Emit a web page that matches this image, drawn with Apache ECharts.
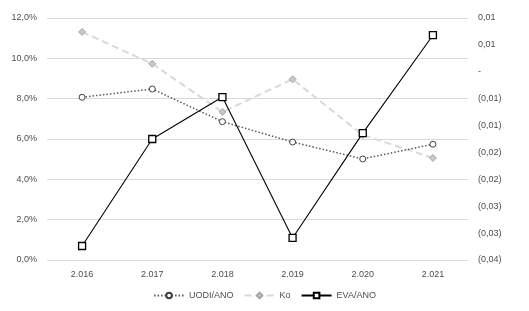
<!DOCTYPE html>
<html>
<head>
<meta charset="utf-8">
<script src="https://cdn.jsdelivr.net/npm/echarts@6/dist/echarts.min.js"></script>
<style>
  html, body { margin: 0; padding: 0; background: #fff; }
  #chart { width: 529px; height: 311px; }
</style>
</head>
<body>
<div id="chart"></div>
<script>
var years = ['2.016', '2.017', '2.018', '2.019', '2.020', '2.021'];
var uodiAno = [0.0807, 0.0848, 0.0686, 0.0585, 0.0501, 0.0574];
var ko = [0.1131, 0.0973, 0.0734, 0.0896, 0.0620, 0.0506];
var evaAno = [-0.0324, -0.0125, -0.0047, -0.0309, -0.0114, 0.0068];

var labelColor = '#4d4d4d';
var fontFam = '"Liberation Sans", Arial, sans-serif';

function pctLabel(v) {
    return (v * 100).toFixed(1).replace('.', ',') + '%';
}

// formato contable: negativos entre paréntesis, cero como guion
function accLabel(v) {
    if (Math.abs(v) < 1e-9) return '-';
    var a = Math.round(Math.abs(v) * 100 + 1e-7) / 100;
    var s = a.toFixed(2).replace('.', ',');
    return v < 0 ? '(' + s + ')' : s;
}

var chart = echarts.init(document.getElementById('chart'));

var option = {
    animation: false,
    textStyle: { fontFamily: fontFam },
    legend: {
        bottom: 6,
        left: 'center',
        itemWidth: 30,
        itemHeight: 7,
        itemGap: 10,
        textStyle: { color: labelColor, fontSize: 9, fontFamily: fontFam },
        data: ['UODI/ANO', 'Ko', 'EVA/ANO']
    },
    grid: {
        left: 47,
        right: 61,
        top: 18,
        bottom: 51
    },
    xAxis: {
        type: 'category',
        data: years,
        axisTick: { show: false },
        axisLine: { show: false },
        axisLabel: { color: labelColor, fontSize: 9, margin: 10 }
    },
    yAxis: [
        {
            type: 'value',
            min: 0,
            max: 0.12,
            interval: 0.02,
            axisLine: { show: false },
            axisTick: { show: false },
            axisLabel: { color: labelColor, fontSize: 9, margin: 10, formatter: pctLabel },
            splitLine: { lineStyle: { color: '#d9d9d9', width: 1 } }
        },
        {
            type: 'value',
            min: -0.035,
            max: 0.01,
            interval: 0.005,
            axisLine: { show: false },
            axisTick: { show: false },
            splitLine: { show: false },
            axisLabel: { color: labelColor, fontSize: 9, margin: 10, formatter: accLabel }
        }
    ],
    series: [
        {
            name: 'UODI/ANO',
            type: 'line',
            yAxisIndex: 0,
            data: uodiAno,
            symbol: 'circle',
            symbolSize: 6,
            lineStyle: { color: '#595959', width: 1.5, type: [1.5, 2] },
            itemStyle: { color: '#ffffff', borderColor: '#404040', borderWidth: 1 },
            z: 3
        },
        {
            name: 'Ko',
            type: 'line',
            yAxisIndex: 0,
            data: ko,
            symbol: 'diamond',
            symbolSize: 7,
            lineStyle: { color: '#d9d9d9', width: 2, type: [7, 4] },
            itemStyle: { color: '#c8c8c8', borderColor: '#a6a6a6', borderWidth: 1 },
            z: 2
        },
        {
            name: 'EVA/ANO',
            type: 'line',
            yAxisIndex: 1,
            data: evaAno,
            symbol: 'rect',
            symbolSize: 7,
            lineStyle: { color: '#000000', width: 1.1 },
            itemStyle: { color: '#ffffff', borderColor: '#000000', borderWidth: 1.3 },
            z: 4
        }
    ]
};

chart.setOption(option);

window.addEventListener('resize', function () {
    chart.resize();
});
</script>
</body>
</html>
